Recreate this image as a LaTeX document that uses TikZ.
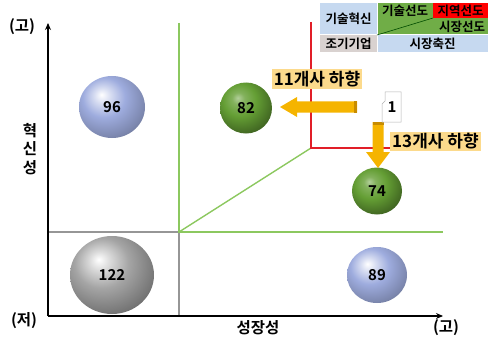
\documentclass[tikz,border=0pt]{standalone}
\usepackage{fontspec}
\setmainfont{Noto Sans CJK KR}[BoldFont={Noto Sans CJK KR Bold}]
\usetikzlibrary{shapes.geometric,arrows.meta}
\definecolor{gline}{RGB}{140,200,95}
\definecolor{grayl}{RGB}{150,150,150}
\definecolor{redl}{RGB}{225,30,40}
\definecolor{arrc}{RGB}{245,180,0}
\definecolor{arrd}{RGB}{200,140,0}
\definecolor{lblc}{RGB}{252,218,140}
\definecolor{tblue}{RGB}{198,217,240}
\definecolor{tgreen}{RGB}{112,173,71}
\definecolor{tgray}{RGB}{217,210,208}
\definecolor{bluball}{RGB}{158,172,222}
\definecolor{grnball}{RGB}{100,158,52}
\definecolor{gryball}{RGB}{165,165,165}
\pgfdeclareradialshading{shblue}{\pgfpoint{-8bp}{10bp}}{color(0bp)=(white); color(6bp)=(bluball!40!white); color(16bp)=(bluball); color(30bp)=(bluball!78!black); color(42bp)=(bluball!52!black); color(70bp)=(bluball!48!black)}
\pgfdeclareradialshading{shgreen}{\pgfpoint{-8bp}{10bp}}{color(0bp)=(grnball!50!white); color(6bp)=(grnball!80!white); color(16bp)=(grnball); color(28bp)=(grnball!72!black); color(40bp)=(grnball!45!black); color(70bp)=(grnball!40!black)}
\pgfdeclareradialshading{shgray}{\pgfpoint{-8bp}{10bp}}{color(0bp)=(white); color(6bp)=(gryball!40!white); color(16bp)=(gryball); color(30bp)=(gryball!72!black); color(42bp)=(gryball!48!black); color(70bp)=(gryball!44!black)}
\begin{document}
\begin{tikzpicture}[x=1pt,y=-1pt,
  ball/.style={ellipse, inner sep=0pt, font=\fontsize{15}{15}\selectfont\bfseries},
  lbl/.style={fill=lblc, inner sep=2pt, font=\fontsize{17}{17}\selectfont\bfseries},
  axlbl/.style={font=\fontsize{15.5}{15.5}\selectfont\bfseries},
  tcell/.style={font=\fontsize{12.5}{12.5}\selectfont\bfseries}]
\useasboundingbox (0,0) rectangle (489,342);
% quadrant lines
\draw[grayl, line width=1.1pt] (48,232) -- (179,232) -- (179,316);
\draw[gline, line width=1.4pt] (179,23) -- (179,232) -- (443,232);
\draw[gline, line width=1.4pt] (179,232) -- (311,148);
\draw[redl, line width=1.3pt] (311,22) -- (311,148) -- (391,148);
% axes
\coordinate (o) at (48,316);
\coordinate (ytop) at (48,23);
\coordinate (xend) at (443,316);
\draw[line width=1.5pt, -{Stealth[length=7pt,width=6pt]}] (o) -- (ytop);
\draw[line width=1.5pt, -{Stealth[length=7pt,width=6pt]}] (o) -- (xend);
\node[axlbl] (yh) at (22,27) {(고)};
\node[axlbl] (yl) at (24,321) {(저)};
\node[axlbl] (xh) at (446,328) {(고)};
\node[axlbl] (xl) at (258,328) {성장성};
\node[axlbl, align=center] (yl2) at (30,149) {혁\\[3pt]신\\[3pt]성};
% balls
\node[ball, shading=shblue, minimum width=66, minimum height=62] (b96) at (112,107) {96};
\node[ball, shading=shgray, minimum width=84, minimum height=78] (b122) at (112,275) {122};
\node[ball, shading=shgreen, minimum width=52, minimum height=51] (b82) at (246,108) {82};
\node[ball, shading=shgreen, minimum width=50, minimum height=47] (b74) at (377,191) {74};
\node[ball, shading=shblue, minimum width=60, minimum height=56] (b89) at (377,275) {89};
% arrows
\fill[arrc] (357,101.5) -- (297,101.5) -- (297,97) -- (280,107) -- (297,117) -- (297,112.5) -- (357,112.5) -- cycle;
\fill[arrd] (354,101.5) rectangle (357,112.5);
\fill[arrc] (372.5,122) -- (372.5,152) -- (366,152) -- (378,168) -- (390,152) -- (383.5,152) -- (383.5,122) -- cycle;
\fill[arrd] (372.5,122) rectangle (383.5,125);
% callout
\draw[gray!60, fill=white, line width=0.5pt] (385,92) -- (401,92) -- (401,122) -- (382,122) -- (382,104) -- (385,101) -- cycle;
\node[font=\fontsize{15}{15}\selectfont\bfseries] (one) at (392,107) {1};
% labels
\node[lbl] (l11) at (317,79) {11개사 하향};
\node[lbl, anchor=west] (l13) at (390,141.5) {13개사 하향};
% table
\fill[tblue] (320,3) rectangle (377,35);
\fill[tgreen] (377,3) rectangle (488,35);
\fill[red] (433,3) rectangle (488,18);
\fill[tgray] (320,35) rectangle (377,52);
\fill[tblue] (377,35) rectangle (488,52);
\draw[white, line width=1pt] (320,35) -- (488,35);
\draw[white, line width=1pt] (377,3) -- (377,52);
\draw[black!70!green, line width=0.6pt] (377,35) -- (433,18);
\node[tcell] (c1) at (348.5,19) {기술혁신};
\node[tcell] (c2) at (405,11) {기술선도};
\node[tcell] (c3) at (460.5,11) {지역선도};
\node[tcell] (c4) at (462,27) {시장선도};
\node[tcell] (c5) at (348.5,44) {조기기업};
\node[tcell] (c6) at (432.5,44) {시장축진};
\end{tikzpicture}
\end{document}
